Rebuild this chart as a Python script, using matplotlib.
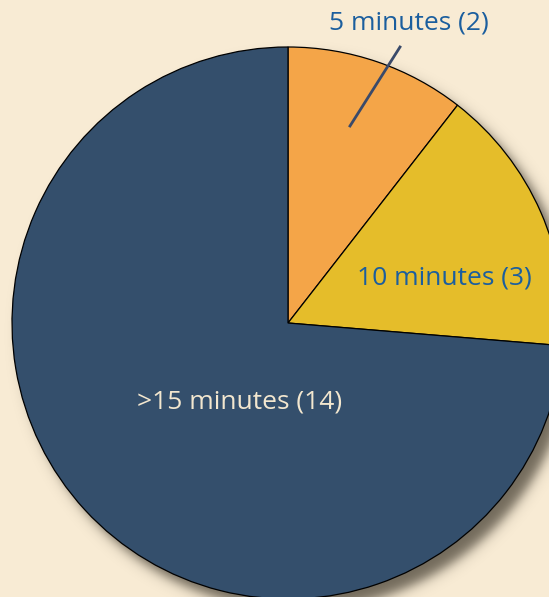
import numpy as np
import matplotlib
matplotlib.use("Agg")
import matplotlib.pyplot as plt

labels = ["5 minutes", "10 minutes", ">15 minutes"]
counts = [2, 3, 14]
colors = ["#F4A548", "#E5BD2A", "#344F6C"]

bg = "#F8EBD4"
W, H = 549, 597
cx, cy, r = 288, 274, 276

fig = plt.figure(figsize=(W / 100, H / 100), dpi=100)
fig.patch.set_facecolor(bg)
ax = fig.add_axes([0, 0, 1, 1])

# soft drop shadow behind the pie
xs = np.arange(W) + 0.5
ys = np.arange(H) + 0.5
X, Y = np.meshgrid(xs, ys)
d = np.sqrt((X - cx - 10) ** 2 + (Y - cy + 11) ** 2) - r
alpha = 0.62 * 0.5 * (1 - np.tanh(d / 7.0))
shadow = np.zeros((H, W, 4))
shadow[..., 0] = 0.12
shadow[..., 1] = 0.1
shadow[..., 2] = 0.06
shadow[..., 3] = alpha
ax.imshow(shadow, extent=(0, W, 0, H), origin="lower", zorder=0, interpolation="bilinear")

wedges, _ = ax.pie(counts, colors=colors, startangle=90, counterclock=False,
                   center=(cx, cy), radius=r, frame=True,
                   wedgeprops=dict(edgecolor="black", linewidth=0.9))
for w in wedges:
    w.set_zorder(2)
ax.set_xlim(0, W)
ax.set_ylim(0, H)
ax.set_aspect("equal")
ax.axis("off")

font = "Open Sans"
size = 19
ax.text(409, 574, f"{labels[0]} ({counts[0]})", color="#1B5E9E", fontsize=size,
        family=font, ha="center", va="center", zorder=3)
ax.plot([350, 400], [471, 550], color="#3A4A6A", lw=2, zorder=3)
ax.text(444, 319, f"{labels[1]} ({counts[1]})", color="#1B5E9E", fontsize=size,
        family=font, ha="center", va="center", zorder=3)
ax.text(240, 195, f"{labels[2]} ({counts[2]})", color="#F3E7CF", fontsize=size,
        family=font, ha="center", va="center", zorder=3)

fig.savefig("out.png", dpi=100, facecolor=bg)
